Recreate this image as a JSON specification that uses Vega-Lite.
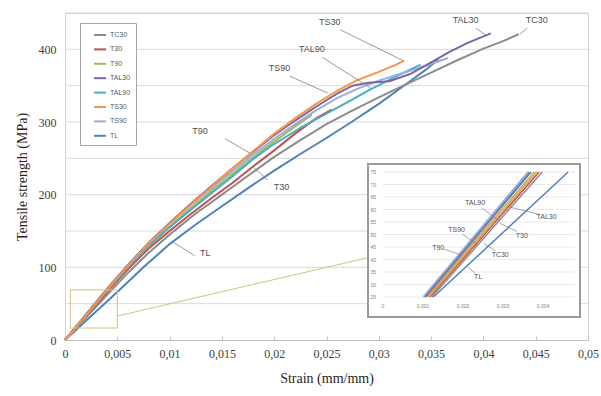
{
  "$schema": "https://vega.github.io/schema/vega-lite/v6.json",
  "width": 523,
  "height": 327,
  "autosize": "none",
  "padding": {"left": 65, "top": 13, "right": 13, "bottom": 56},
  "background": "white",
  "config": {
    "view": {"stroke": "#c9d3dd", "strokeWidth": 1}
  },
  "datasets": {
    "grid": [{"g":50},{"g":100},{"g":150},{"g":200},{"g":250},{"g":300},{"g":350},{"g":400},{"g":450}],
    "curves": [
      {"s":"TL","e":0,"sig":0},{"s":"TL","e":0.0025,"sig":33},{"s":"TL","e":0.005,"sig":66},{"s":"TL","e":0.0075,"sig":100},{"s":"TL","e":0.01,"sig":132},{"s":"TL","e":0.0125,"sig":159},{"s":"TL","e":0.015,"sig":184},{"s":"TL","e":0.0175,"sig":209},{"s":"TL","e":0.02,"sig":233},{"s":"TL","e":0.0225,"sig":256},{"s":"TL","e":0.025,"sig":278},{"s":"TL","e":0.0275,"sig":301},{"s":"TL","e":0.03,"sig":325},{"s":"TL","e":0.0325,"sig":351},{"s":"TL","e":0.0345,"sig":372},{"s":"TL","e":0.0357,"sig":386},
      {"s":"TC30","e":0,"sig":0},{"s":"TC30","e":0.002,"sig":31},{"s":"TC30","e":0.004,"sig":62},{"s":"TC30","e":0.006,"sig":92},{"s":"TC30","e":0.008,"sig":120},{"s":"TC30","e":0.01,"sig":145},{"s":"TC30","e":0.0125,"sig":174},{"s":"TC30","e":0.015,"sig":200},{"s":"TC30","e":0.0175,"sig":226},{"s":"TC30","e":0.02,"sig":252},{"s":"TC30","e":0.0225,"sig":275},{"s":"TC30","e":0.025,"sig":297},{"s":"TC30","e":0.0275,"sig":316},{"s":"TC30","e":0.03,"sig":334},{"s":"TC30","e":0.0325,"sig":351},{"s":"TC30","e":0.035,"sig":368},{"s":"TC30","e":0.0375,"sig":385},{"s":"TC30","e":0.04,"sig":401},{"s":"TC30","e":0.042,"sig":412},{"s":"TC30","e":0.0434,"sig":421},
      {"s":"T30","e":0,"sig":0},{"s":"T30","e":0.002,"sig":33},{"s":"T30","e":0.004,"sig":66},{"s":"T30","e":0.006,"sig":97},{"s":"T30","e":0.008,"sig":126},{"s":"T30","e":0.01,"sig":150},{"s":"T30","e":0.012,"sig":173},{"s":"T30","e":0.014,"sig":195},{"s":"T30","e":0.016,"sig":216},{"s":"T30","e":0.018,"sig":239},{"s":"T30","e":0.02,"sig":261},{"s":"T30","e":0.022,"sig":284},{"s":"T30","e":0.024,"sig":305},{"s":"T30","e":0.0255,"sig":317},
      {"s":"T90","e":0,"sig":0},{"s":"T90","e":0.002,"sig":34},{"s":"T90","e":0.004,"sig":68},{"s":"T90","e":0.006,"sig":100},{"s":"T90","e":0.008,"sig":130},{"s":"T90","e":0.01,"sig":156},{"s":"T90","e":0.012,"sig":181},{"s":"T90","e":0.014,"sig":205},{"s":"T90","e":0.016,"sig":228},{"s":"T90","e":0.018,"sig":251},{"s":"T90","e":0.02,"sig":273},{"s":"T90","e":0.022,"sig":294},{"s":"T90","e":0.0236,"sig":310},
      {"s":"TAL90","e":0,"sig":0},{"s":"TAL90","e":0.002,"sig":34},{"s":"TAL90","e":0.004,"sig":68},{"s":"TAL90","e":0.006,"sig":100},{"s":"TAL90","e":0.008,"sig":129},{"s":"TAL90","e":0.01,"sig":155},{"s":"TAL90","e":0.012,"sig":179},{"s":"TAL90","e":0.014,"sig":202},{"s":"TAL90","e":0.016,"sig":225},{"s":"TAL90","e":0.018,"sig":249},{"s":"TAL90","e":0.0196,"sig":266},{"s":"TAL90","e":0.0225,"sig":292},{"s":"TAL90","e":0.0253,"sig":314},{"s":"TAL90","e":0.0275,"sig":331},{"s":"TAL90","e":0.0292,"sig":345},{"s":"TAL90","e":0.031,"sig":358},{"s":"TAL90","e":0.0327,"sig":370},{"s":"TAL90","e":0.034,"sig":379},
      {"s":"TS90","e":0,"sig":0},{"s":"TS90","e":0.002,"sig":35},{"s":"TS90","e":0.004,"sig":70},{"s":"TS90","e":0.006,"sig":103},{"s":"TS90","e":0.008,"sig":133},{"s":"TS90","e":0.01,"sig":160},{"s":"TS90","e":0.012,"sig":185},{"s":"TS90","e":0.014,"sig":209},{"s":"TS90","e":0.016,"sig":232},{"s":"TS90","e":0.018,"sig":255},{"s":"TS90","e":0.02,"sig":277},{"s":"TS90","e":0.022,"sig":297},{"s":"TS90","e":0.024,"sig":316},{"s":"TS90","e":0.026,"sig":333},{"s":"TS90","e":0.028,"sig":346},{"s":"TS90","e":0.03,"sig":357},{"s":"TS90","e":0.032,"sig":366},{"s":"TS90","e":0.034,"sig":375},{"s":"TS90","e":0.0366,"sig":388},
      {"s":"TAL30","e":0,"sig":0},{"s":"TAL30","e":0.002,"sig":35},{"s":"TAL30","e":0.004,"sig":70},{"s":"TAL30","e":0.006,"sig":103},{"s":"TAL30","e":0.008,"sig":134},{"s":"TAL30","e":0.01,"sig":161},{"s":"TAL30","e":0.012,"sig":187},{"s":"TAL30","e":0.014,"sig":212},{"s":"TAL30","e":0.016,"sig":236},{"s":"TAL30","e":0.018,"sig":259},{"s":"TAL30","e":0.02,"sig":282},{"s":"TAL30","e":0.022,"sig":302},{"s":"TAL30","e":0.024,"sig":321},{"s":"TAL30","e":0.026,"sig":339},{"s":"TAL30","e":0.0275,"sig":350},{"s":"TAL30","e":0.029,"sig":354},{"s":"TAL30","e":0.031,"sig":356},{"s":"TAL30","e":0.033,"sig":366},{"s":"TAL30","e":0.035,"sig":382},{"s":"TAL30","e":0.0368,"sig":397},{"s":"TAL30","e":0.0385,"sig":409},{"s":"TAL30","e":0.0407,"sig":422},
      {"s":"TS30","e":0,"sig":0},{"s":"TS30","e":0.002,"sig":34},{"s":"TS30","e":0.004,"sig":69},{"s":"TS30","e":0.006,"sig":102},{"s":"TS30","e":0.008,"sig":133},{"s":"TS30","e":0.01,"sig":160},{"s":"TS30","e":0.012,"sig":186},{"s":"TS30","e":0.014,"sig":211},{"s":"TS30","e":0.016,"sig":236},{"s":"TS30","e":0.018,"sig":260},{"s":"TS30","e":0.02,"sig":284},{"s":"TS30","e":0.022,"sig":305},{"s":"TS30","e":0.024,"sig":325},{"s":"TS30","e":0.026,"sig":343},{"s":"TS30","e":0.028,"sig":358},{"s":"TS30","e":0.03,"sig":369},{"s":"TS30","e":0.0315,"sig":378},{"s":"TS30","e":0.0324,"sig":384}
    ],
    "labels": [
      {"t":"TS30","lx":0.0253,"ly":437},
      {"t":"TAL90","lx":0.0236,"ly":400},
      {"t":"TS90","lx":0.0205,"ly":374},
      {"t":"T90","lx":0.0129,"ly":288},
      {"t":"T30","lx":0.0207,"ly":210},
      {"t":"TL","lx":0.0134,"ly":120},
      {"t":"TAL30","lx":0.0383,"ly":440},
      {"t":"TC30","lx":0.0451,"ly":440}
    ],
    "leaders": [
      {"x1":0.0263,"y1":427,"x2":0.0324,"y2":384},
      {"x1":0.0246,"y1":389,"x2":0.0292,"y2":347},
      {"x1":0.0215,"y1":363,"x2":0.0251,"y2":340},
      {"x1":0.0153,"y1":277,"x2":0.0177,"y2":257},
      {"x1":0.0194,"y1":220,"x2":0.0179,"y2":239},
      {"x1":0.0103,"y1":135,"x2":0.0124,"y2":116},
      {"x1":0.0393,"y1":429,"x2":0.0404,"y2":418},
      {"x1":0.0442,"y1":429,"x2":0.0435,"y2":421}
    ],
    "zoombox": [{"x1":0.0005,"x2":0.005,"y1":16.5,"y2":69}],
    "connector": [{"x1":0.005,"y1":33,"x2":0.0289,"y2":113}],
    "insetFrame": [{"x1":-0.000375,"x2":0.004925,"y1":17,"y2":78.2}],
    "insetGrid": [{"g":25},{"g":30},{"g":35},{"g":40},{"g":45},{"g":50},{"g":55},{"g":60},{"g":65},{"g":70},{"g":75}],
    "insetX": [{"v":0,"t":"0"},{"v":0.001,"t":"0,001"},{"v":0.002,"t":"0,002"},{"v":0.003,"t":"0,003"},{"v":0.004,"t":"0,004"}],
    "inset": [
      {"s":"TL","e":0.00126,"sig":25},{"s":"TL","e":0.00463,"sig":75},
      {"s":"TC30","e":0.00122,"sig":25},{"s":"TC30","e":0.00398,"sig":75},
      {"s":"T30","e":0.00117,"sig":25},{"s":"T30","e":0.0039,"sig":75},
      {"s":"T90","e":0.0011,"sig":25},{"s":"T90","e":0.00378,"sig":75},
      {"s":"TAL90","e":0.00103,"sig":25},{"s":"TAL90","e":0.00366,"sig":75},
      {"s":"TS90","e":0.001,"sig":25},{"s":"TS90","e":0.00362,"sig":75},
      {"s":"TAL30","e":0.00106,"sig":25},{"s":"TAL30","e":0.0037,"sig":75},
      {"s":"TS30","e":0.00114,"sig":25},{"s":"TS30","e":0.00384,"sig":75}
    ],
    "insetLabels": [
      {"t":"TAL90","lx":0.0023,"ly":62.5},
      {"t":"TAL30","lx":0.00409,"ly":57.1},
      {"t":"T30","lx":0.00347,"ly":49.4},
      {"t":"TS90","lx":0.00184,"ly":51.8},
      {"t":"T90","lx":0.00138,"ly":44.5},
      {"t":"TC30","lx":0.00293,"ly":41.8},
      {"t":"TL","lx":0.00238,"ly":32.9}
    ],
    "insetLeaders": [
      {"x1":0.00248,"y1":60.5,"x2":0.0029,"y2":55.5},
      {"x1":0.00392,"y1":58,"x2":0.00316,"y2":61},
      {"x1":0.00335,"y1":51.2,"x2":0.00292,"y2":54.5},
      {"x1":0.00198,"y1":50.2,"x2":0.00236,"y2":46},
      {"x1":0.00152,"y1":44.2,"x2":0.00192,"y2":42},
      {"x1":0.00281,"y1":43.5,"x2":0.00252,"y2":46.5},
      {"x1":0.0023,"y1":34.5,"x2":0.00212,"y2":37}
    ]
  },
  "layer": [
    {
      "layer": [
        {
          "data": {"name": "grid"},
          "mark": {"type": "rule", "stroke": "#d9d9d9", "strokeWidth": 1},
          "encoding": {
            "x": {"datum": 0, "type": "quantitative"}, "x2": {"datum": 0.05},
            "y": {"field": "g", "type": "quantitative"}
          }
        },
        {
          "data": {"name": "curves"},
          "mark": {"type": "line", "strokeWidth": 2},
          "encoding": {
            "x": {"field": "e", "type": "quantitative",
              "scale": {"domain": [0, 0.05], "nice": false, "zero": false},
              "axis": {
                "title": "Strain (mm/mm)", "values": [0,0.005,0.01,0.015,0.02,0.025,0.03,0.035,0.04,0.045,0.05],
                "labelExpr": "datum.value == 0 ? '0' : replace(format(datum.value, '.3~f'), '.', ',')",
                "grid": false, "domainColor": "#bfbfbf", "ticks": true, "tickColor": "#bfbfbf", "tickSize": -4,
                "labelFont": "Liberation Serif", "labelFontSize": 12, "labelColor": "#404040", "labelPadding": 12,
                "titleFont": "Liberation Serif", "titleFontSize": 14, "titleFontWeight": "normal", "titleColor": "#262626", "titlePadding": 12,
                "labelFlush": false
              }},
            "y": {"field": "sig", "type": "quantitative",
              "scale": {"domain": [0, 450], "nice": false},
              "axis": {
                "title": "Tensile strength (MPa)", "values": [0,50,100,150,200,250,300,350,400,450],
                "grid": false, "domainColor": "#c9d3dd", "ticks": false,
                "labelFont": "Liberation Serif", "labelFontSize": 12, "labelColor": "#404040", "labelPadding": 9,
                "titleFont": "Liberation Serif", "titleFontSize": 14, "titleFontWeight": "normal", "titleColor": "#262626", "titlePadding": 9
              }},
            "color": {"field": "s", "type": "nominal",
              "scale": {"domain": ["TC30","T30","T90","TAL30","TAL90","TS30","TS90","TL"],
                        "range": ["#8c8c8c","#c0504d","#9bbb59","#8064a2","#4bacc6","#f79646","#9aaedb","#4f81bd"]},
              "legend": {
                "orient": "none", "legendX": 15, "legendY": 10, "title": null,
                "symbolType": "stroke", "symbolStrokeWidth": 2, "symbolSize": 144, "symbolOffset": 8,
                "labelFont": "Liberation Sans", "labelFontSize": 7, "labelColor": "#595959",
                "strokeColor": "#a6a6a6", "fillColor": "white", "padding": 5, "rowPadding": 3.4, "labelOffset": 3
              }},
            "order": {"field": "e", "type": "quantitative"}
          }
        },
        {
          "data": {"name": "zoombox"},
          "mark": {"type": "rect", "fill": null, "fillOpacity": 0, "stroke": "#d4c27a", "strokeWidth": 1},
          "encoding": {
            "x": {"field": "x1", "type": "quantitative"}, "x2": {"field": "x2"},
            "y": {"field": "y1", "type": "quantitative"}, "y2": {"field": "y2"}
          }
        },
        {
          "data": {"name": "connector"},
          "mark": {"type": "rule", "stroke": "#d4c27a", "strokeWidth": 1},
          "encoding": {
            "x": {"field": "x1", "type": "quantitative"}, "x2": {"field": "x2"},
            "y": {"field": "y1", "type": "quantitative"}, "y2": {"field": "y2"}
          }
        },
        {
          "data": {"name": "leaders"},
          "mark": {"type": "rule", "stroke": "#808080", "strokeWidth": 0.8},
          "encoding": {
            "x": {"field": "x1", "type": "quantitative"}, "x2": {"field": "x2"},
            "y": {"field": "y1", "type": "quantitative"}, "y2": {"field": "y2"}
          }
        },
        {
          "data": {"name": "labels"},
          "mark": {"type": "text", "font": "Liberation Sans", "fontSize": 9, "fill": "#505050", "align": "center", "baseline": "middle"},
          "encoding": {
            "x": {"field": "lx", "type": "quantitative"},
            "y": {"field": "ly", "type": "quantitative"},
            "text": {"field": "t"}
          }
        }
      ]
    },
    {
      "layer": [
        {
          "data": {"name": "insetFrame"},
          "mark": {"type": "rect", "fill": "white", "stroke": "#9a9a9a", "strokeWidth": 2},
          "encoding": {
            "x": {"field": "x1", "type": "quantitative", "axis": null,
                  "scale": {"domain": [-0.00795, 0.005125], "nice": false, "zero": false}},
            "x2": {"field": "x2"},
            "y": {"field": "y1", "type": "quantitative", "axis": null,
                  "scale": {"domain": [7.8, 138.6], "nice": false, "zero": false}},
            "y2": {"field": "y2"}
          }
        },
        {
          "data": {"name": "insetGrid"},
          "mark": {"type": "rule", "stroke": "#e3e3e3", "strokeWidth": 0.8},
          "encoding": {
            "x": {"datum": 0, "type": "quantitative"}, "x2": {"datum": 0.0048},
            "y": {"field": "g", "type": "quantitative"}
          }
        },
        {
          "data": {"name": "insetGrid"},
          "mark": {"type": "text", "font": "Liberation Sans", "fontSize": 5, "fill": "#808080", "align": "right", "baseline": "middle"},
          "encoding": {
            "x": {"datum": -0.000175, "type": "quantitative"},
            "y": {"field": "g", "type": "quantitative"},
            "text": {"field": "g"}
          }
        },
        {
          "data": {"name": "insetX"},
          "mark": {"type": "text", "font": "Liberation Sans", "fontSize": 5, "fill": "#808080", "align": "center", "baseline": "middle"},
          "encoding": {
            "x": {"field": "v", "type": "quantitative"},
            "y": {"datum": 21.4, "type": "quantitative"},
            "text": {"field": "t"}
          }
        },
        {
          "data": {"name": "inset"},
          "mark": {"type": "line", "strokeWidth": 1.5},
          "encoding": {
            "x": {"field": "e", "type": "quantitative"},
            "y": {"field": "sig", "type": "quantitative"},
            "color": {"field": "s", "type": "nominal"}
          }
        },
        {
          "data": {"name": "insetLeaders"},
          "mark": {"type": "rule", "stroke": "#808080", "strokeWidth": 0.7},
          "encoding": {
            "x": {"field": "x1", "type": "quantitative"}, "x2": {"field": "x2"},
            "y": {"field": "y1", "type": "quantitative"}, "y2": {"field": "y2"}
          }
        },
        {
          "data": {"name": "insetLabels"},
          "mark": {"type": "text", "font": "Liberation Sans", "fontSize": 7, "fill": "#505050", "align": "center", "baseline": "middle"},
          "encoding": {
            "x": {"field": "lx", "type": "quantitative"},
            "y": {"field": "ly", "type": "quantitative"},
            "text": {"field": "t"}
          }
        }
      ]
    }
  ],
  "resolve": {"scale": {"x": "independent", "y": "independent"}}
}
